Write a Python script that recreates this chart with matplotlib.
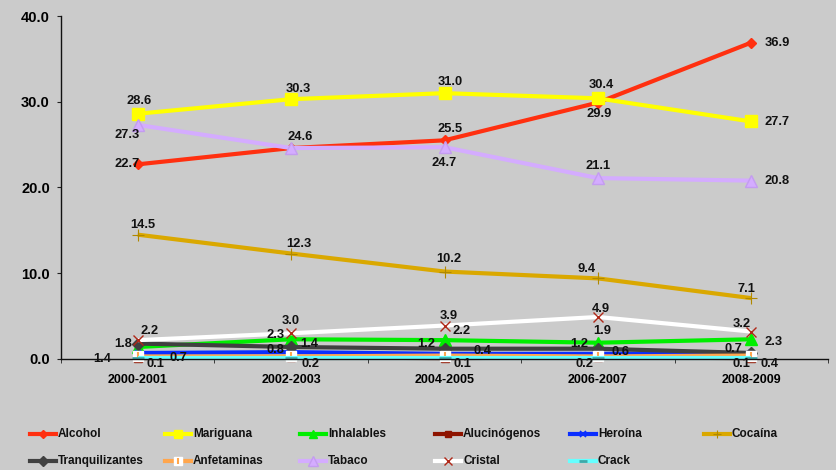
import matplotlib
matplotlib.use("Agg")
import matplotlib.pyplot as plt
from matplotlib.lines import Line2D

# ---------------- data ----------------
periods = ["2000-2001", "2002-2003", "2004-2005", "2006-2007", "2008-2009"]
alcohol = [22.7, 24.6, 25.5, 29.9, 36.9]
mariguana = [28.6, 30.3, 31.0, 30.4, 27.7]
inhalables = [1.4, 2.3, 2.2, 1.9, 2.3]
alucinogenos = [0.1, 0.2, 0.1, 0.2, 0.1]
heroina = [0.7, 0.8, 0.6, 0.6, 0.7]
cocaina = [14.5, 12.3, 10.2, 9.4, 7.1]
tranquilizantes = [1.8, 1.4, 1.2, 1.2, 0.7]
anfetaminas = [0.3, 0.3, 0.4, 0.3, 0.4]
tabaco = [27.3, 24.6, 24.7, 21.1, 20.8]
cristal = [2.2, 3.0, 3.9, 4.9, 3.2]
crack = [0.1, 0.1, 0.1, 0.1, 0.1]

series_names = ["Alcohol", "Mariguana", "Inhalables", "Alucinógenos", "Heroína",
                "Cocaína", "Tranquilizantes", "Anfetaminas", "Tabaco", "Cristal", "Crack"]
series_values = [alcohol, mariguana, inhalables, alucinogenos, heroina, cocaina,
                 tranquilizantes, anfetaminas, tabaco, cristal, crack]

# ---------------- styles ----------------
styles = {
    "Alcohol": dict(color="#FF3010", marker="D", ms=5.5, mfc="#FF3010", mec="#FF3010"),
    "Mariguana": dict(color="#FFFF00", marker="s", ms=8, mfc="#FFFF00", mec="#FFFF00"),
    "Inhalables": dict(color="#00EE00", marker="^", ms=8, mfc="#00EE00", mec="#00EE00"),
    "Alucinógenos": dict(color="#8E1400", marker="s", ms=6, mfc="#8E1400", mec="#8E1400"),
    "Heroína": dict(color="#0A2EFF", marker="x", ms=5, mfc="#0A2EFF", mec="#0A2EFF", mew=1.2),
    "Cocaína": dict(color="#DAA800", marker="+", ms=8, mfc="#B08800", mec="#B08800", mew=0.8),
    "Tranquilizantes": dict(color="#404040", marker="D", ms=6, mfc="#404040", mec="#404040"),
    "Anfetaminas": dict(color="#FFA64D", marker="s", ms=7, mfc="white", mec="white"),
    "Tabaco": dict(color="#D4ACFF", marker="^", ms=9, mfc="#D4ACFF", mec="#C49CF0"),
    "Cristal": dict(color="#FFFFFF", marker="x", ms=7, mfc="#B02818", mec="#B02818", mew=1.0),
    "Crack": dict(color="#66FFFF", marker="_", ms=8, mfc="#3FA8A8", mec="#3FA8A8", mew=2),
}

# label placements: (index, dx_px, dy_px) with dy positive = down on the image
label_pos = {
    "Alcohol": [(0, -11, 0), (2, 6, -11), (3, 1, 11), (4, 26, 0)],
    "Mariguana": [(0, 1, -13), (1, 7, -10), (2, 6, -11), (3, 3, -13), (4, 26, 1)],
    "Tabaco": [(0, -11, 10), (1, 9, -11), (2, 0, 16), (3, 0, -12), (4, 26, 0)],
    "Cocaína": [(0, 5, -10), (1, 8, -10), (2, 4, -13), (3, -11, -9), (4, -5, -9)],
    "Cristal": [(0, 12, -9), (1, 0, -12), (2, 4, -10), (3, 3, -8), (4, -10, -8)],
    "Inhalables": [(0, -35, 12), (1, -16, -4), (2, 17, -9), (3, 4, -12), (4, 22, 3)],
    "Tranquilizantes": [(0, -15, 0), (1, 18, -3), (2, -18, -5), (3, -19, -5), (4, -18, -4)],
    "Heroína": [(0, 41, 5), (1, -16, -2), (3, 23, -2)],
    "Anfetaminas": [(2, 38, -5), (4, 18, 8)],
    "Alucinógenos": [(0, 18, 6), (1, 19, 7), (2, 18, 6), (3, -13, 7), (4, -10, 6)],
}

BG = "#CBCBCB"
FONT = "Liberation Sans"

fig = plt.figure(figsize=(8.36, 4.70), dpi=100, facecolor=BG)
ax = fig.add_axes([61 / 836, 1 - 359 / 470, (828 - 61) / 836, (359 - 16) / 470])
ax.set_facecolor(BG)

x = list(range(len(periods)))
for name, vals in zip(series_names, series_values):
    st = styles[name]
    ax.plot(x, vals, color=st["color"], lw=3, marker=st["marker"], ms=st["ms"],
            mfc=st["mfc"], mec=st["mec"], mew=st.get("mew", 1.0), solid_capstyle="butt",
            clip_on=False)
    if name == "Anfetaminas":
        ax.plot(x, vals, ls="none", marker="|", ms=6, mec="#FFA64D", mew=1.5, clip_on=False)

for name, vals in zip(series_names, series_values):
    for (i, dx, dy) in label_pos.get(name, []):
        ax.annotate(f"{vals[i]:.1f}", (x[i], vals[i]), xytext=(dx, -dy),
                    textcoords="offset pixels", ha="center", va="center",
                    fontsize=9.3, fontweight="bold", family=FONT, color="#111111",
                    annotation_clip=False)

ax.set_xlim(-0.5, len(periods) - 0.5)
ax.set_ylim(0, 40)
ax.set_yticks([0, 10, 20, 30, 40])
ax.set_yticklabels([f"{v:.1f}" for v in [0, 10, 20, 30, 40]],
                   fontsize=10.5, fontweight="bold", family=FONT)
ax.set_xticks(x)
ax.set_xticklabels(periods, fontsize=9, fontweight="bold", family=FONT)
ax.set_xticks([i - 0.5 for i in range(len(periods) + 1)], minor=True)
ax.tick_params(axis="x", which="major", length=0, pad=11)
ax.tick_params(axis="x", which="minor", length=3, direction="out", color="#222222")
ax.tick_params(axis="y", which="major", length=3, direction="out", pad=5, color="#222222")
for s in ["top", "right"]:
    ax.spines[s].set_visible(False)
for s in ["left", "bottom"]:
    ax.spines[s].set_color("#111111")
    ax.spines[s].set_linewidth(1.0)

# legend (row-wise, 6 columns)
col_x = [30, 165, 300, 435, 570, 704]
row_y = [434, 461]
for k, name in enumerate(series_names):
    r, c = divmod(k, 6)
    x0 = col_x[c]
    yy = 1 - row_y[r] / 470
    st = styles[name]
    fig.add_artist(Line2D([x0 / 836, (x0 + 26) / 836], [yy, yy], color=st["color"], lw=3,
                          transform=fig.transFigure))
    fig.add_artist(Line2D([(x0 + 13) / 836], [yy], ls="none", marker=st["marker"],
                          ms=st["ms"] * 0.8, mfc=st["mfc"], mec=st["mec"],
                          mew=st.get("mew", 1.0), transform=fig.transFigure))
    if name == "Anfetaminas":
        fig.add_artist(Line2D([(x0 + 13) / 836], [yy], ls="none", marker="|", ms=5,
                              mec="#FFA64D", mew=1.5, transform=fig.transFigure))
    fig.text((x0 + 28) / 836, yy, name, ha="left", va="center", fontsize=8.5,
             fontweight="bold", family=FONT, color="#111111")

fig.savefig("out.png", dpi=100, facecolor=BG)
